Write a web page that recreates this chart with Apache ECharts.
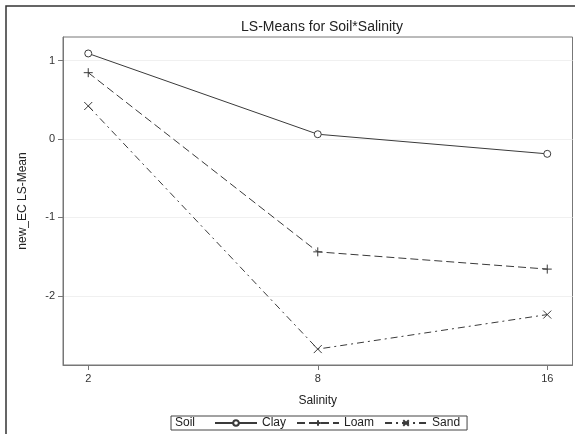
<!DOCTYPE html>
<html>
<head>
<meta charset="utf-8">
<script src="https://cdn.jsdelivr.net/npm/echarts@6/dist/echarts.min.js"></script>
<style>
  html, body { margin: 0; padding: 0; background: #fff; }
  #chart { width: 575px; height: 434px; }
</style>
</head>
<body>
<div id="chart"></div>
<script>
  // salinity levels, drawn evenly spaced as in the original
  const salinity = ['2', '8', '16'];
  const clay = [1.09, 0.06, -0.19];
  const loam = [0.845, -1.44, -1.66];
  const sand = [0.42, -2.68, -2.24];
  const yTicks = [-2, -1, 0, 1];

  const ink = '#3a3a3a';
  const frame = '#777';
  const font = '"Liberation Sans", Arial, sans-serif';

  function pts(arr) {
    return arr.map((v, i) => [i, v]);
  }

  let myChart = echarts.init(document.getElementById('chart'));
  const option = {
    animation: false,
    textStyle: { fontFamily: font },
    title: {
      text: 'LS-Means for Soil*Salinity',
      left: 317,
      textAlign: 'center',
      top: 15,
      textStyle: { fontSize: 14, fontWeight: 'normal', color: '#222', fontFamily: font }
    },
    graphic: [
      {
        type: 'rect',
        shape: { x: 6, y: 6, width: 620, height: 620 },
        style: { fill: 'none', stroke: '#333', lineWidth: 1.5 },
        silent: true
      },
      {
        type: 'text',
        left: 175,
        top: 417,
        style: { text: 'Soil', fontSize: 12, fill: '#222', font: '12px ' + font }
      }
    ],
    legend: {
      left: 171,
      top: 416,
      padding: [1, 7, 1, 43],
      borderColor: '#444',
      borderWidth: 1,
      itemWidth: 42,
      itemHeight: 7,
      itemGap: 10,
      textStyle: { fontSize: 12, color: '#222', fontFamily: font },
      data: ['Clay', 'Loam', 'Sand']
    },
    grid: {
      left: 63,
      right: 2.5,
      top: 37,
      bottom: 69,
      show: true,
      borderColor: frame,
      borderWidth: 1
    },
    xAxis: {
      type: 'value',
      min: -0.11,
      max: 2.11,
      name: 'Salinity',
      nameLocation: 'middle',
      nameGap: 30,
      nameTextStyle: { fontSize: 12, color: '#222', fontFamily: font },
      axisLine: { show: true, onZero: false, lineStyle: { color: frame } },
      axisTick: { show: true, length: 5, customValues: [0, 1, 2], lineStyle: { color: frame } },
      axisLabel: {
        customValues: [0, 1, 2],
        formatter: v => salinity[Math.round(v)],
        fontSize: 11,
        color: '#333',
        margin: 8
      },
      splitLine: { show: false }
    },
    yAxis: {
      type: 'value',
      min: -2.883,
      max: 1.3,
      name: 'new_EC LS-Mean',
      nameLocation: 'middle',
      nameGap: 34,
      nameTextStyle: { fontSize: 12, color: '#222', fontFamily: font },
      axisLine: { show: true, onZero: false, lineStyle: { color: frame } },
      axisTick: { show: true, length: 5, customValues: yTicks, lineStyle: { color: frame } },
      axisLabel: { customValues: yTicks, fontSize: 11, color: '#333', margin: 8 },
      splitLine: { show: true, lineStyle: { color: '#f0f0f0', width: 1 } }
    },
    series: [
      {
        name: 'Clay',
        type: 'line',
        data: pts(clay),
        symbol: 'path://M5,0A5,5,0,1,1,5,10A5,5,0,1,1,5,0Z',
        symbolSize: 7,
        itemStyle: { color: '#fff', borderColor: ink, borderWidth: 1 },
        lineStyle: { color: ink, width: 1, type: 'solid' }
      },
      {
        name: 'Loam',
        type: 'line',
        data: pts(loam),
        symbol: 'path://M5,0L5,10M0,5L10,5',
        symbolSize: 9,
        itemStyle: { color: 'none', borderColor: ink, borderWidth: 1 },
        lineStyle: { color: ink, width: 1, type: [8, 4] }
      },
      {
        name: 'Sand',
        type: 'line',
        data: pts(sand),
        symbol: 'path://M0,0L10,10M10,0L0,10',
        symbolSize: 8,
        itemStyle: { color: 'none', borderColor: ink, borderWidth: 1 },
        lineStyle: { color: ink, width: 1, type: [7, 4, 2, 4] }
      }
    ]
  };
  myChart.setOption(option);
</script>
</body>
</html>
